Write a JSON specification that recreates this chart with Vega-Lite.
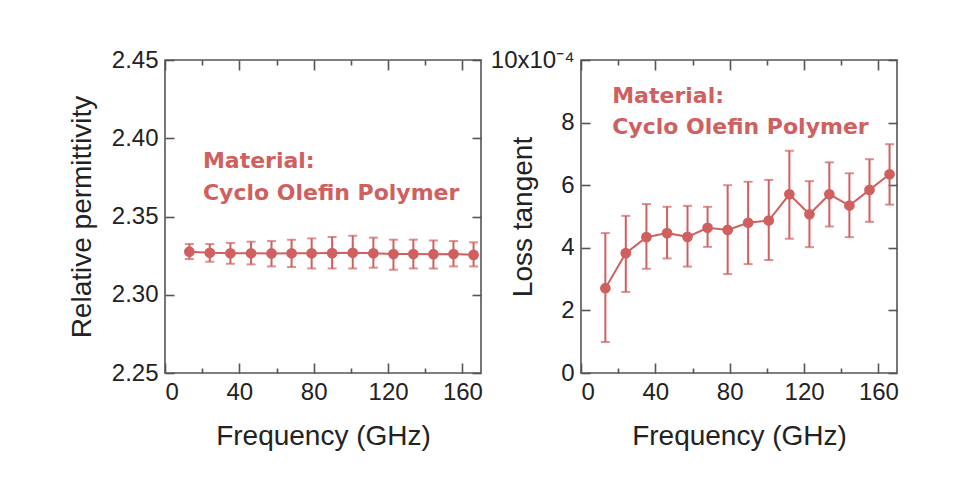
{
  "$schema": "https://vega.github.io/schema/vega-lite/v6.json",
  "autosize": {"type": "pad"},
  "padding": {"left": 67, "top": 47, "right": 5, "bottom": 5},
  "background": "#ffffff",
  "spacing": 100,
  "bounds": "flush",
  "config": {
    "font": "Liberation Sans",
    "view": {"stroke": "#555555", "strokeWidth": 1.6},
    "axis": {
      "grid": false,
      "domain": false,
      "labelFont": "Liberation Sans",
      "labelFontSize": 24,
      "labelColor": "#222222",
      "titleFont": "Liberation Sans",
      "titleFontSize": 28,
      "titleFontWeight": "normal",
      "titleColor": "#222222",
      "tickColor": "#555555",
      "tickWidth": 1.6,
      "labelOverlap": false
    }
  },
  "datasets": {
    "perm": [
      {"freq": 13.1, "v": 2.3275, "lo": 2.3228, "hi": 2.3324},
      {"freq": 24.1, "v": 2.3268, "lo": 2.3211, "hi": 2.3324},
      {"freq": 35.2, "v": 2.3265, "lo": 2.3198, "hi": 2.3331},
      {"freq": 46.3, "v": 2.3265, "lo": 2.3194, "hi": 2.3339},
      {"freq": 57.3, "v": 2.3264, "lo": 2.3181, "hi": 2.3343},
      {"freq": 68.1, "v": 2.3265, "lo": 2.3177, "hi": 2.3352},
      {"freq": 78.9, "v": 2.3265, "lo": 2.3168, "hi": 2.3360},
      {"freq": 89.9, "v": 2.3266, "lo": 2.3168, "hi": 2.3369},
      {"freq": 101.0, "v": 2.3268, "lo": 2.3168, "hi": 2.3377},
      {"freq": 112.1, "v": 2.3265, "lo": 2.3173, "hi": 2.3365},
      {"freq": 122.9, "v": 2.3260, "lo": 2.3160, "hi": 2.3352},
      {"freq": 133.6, "v": 2.3260, "lo": 2.3168, "hi": 2.3352},
      {"freq": 144.4, "v": 2.3259, "lo": 2.3168, "hi": 2.3347},
      {"freq": 155.2, "v": 2.3260, "lo": 2.3181, "hi": 2.3343},
      {"freq": 166.0, "v": 2.3255, "lo": 2.3181, "hi": 2.3335}
    ],
    "loss": [
      {"freq": 13.1, "v": 2.71, "lo": 0.99, "hi": 4.47},
      {"freq": 24.1, "v": 3.83, "lo": 2.59, "hi": 5.02},
      {"freq": 35.2, "v": 4.34, "lo": 3.33, "hi": 5.40},
      {"freq": 46.3, "v": 4.47, "lo": 3.66, "hi": 5.31},
      {"freq": 57.3, "v": 4.35, "lo": 3.40, "hi": 5.34},
      {"freq": 68.1, "v": 4.64, "lo": 4.03, "hi": 5.31},
      {"freq": 78.9, "v": 4.57, "lo": 3.16, "hi": 6.00},
      {"freq": 89.9, "v": 4.80, "lo": 3.48, "hi": 6.11},
      {"freq": 101.0, "v": 4.87, "lo": 3.61, "hi": 6.17},
      {"freq": 112.1, "v": 5.71, "lo": 4.29, "hi": 7.10},
      {"freq": 122.9, "v": 5.07, "lo": 4.02, "hi": 6.13},
      {"freq": 133.6, "v": 5.71, "lo": 4.68, "hi": 6.73},
      {"freq": 144.4, "v": 5.35, "lo": 4.34, "hi": 6.38},
      {"freq": 155.2, "v": 5.85, "lo": 4.83, "hi": 6.83},
      {"freq": 166.0, "v": 6.35, "lo": 5.38, "hi": 7.31}
    ],
    "notePerm": [{"freq": 20.4, "v": 2.381, "t": ["Material:", "Cyclo Olefin Polymer"]}],
    "noteLoss": [{"freq": 16.8, "v": 8.63, "t": ["Material:", "Cyclo Olefin Polymer"]}]
  },
  "hconcat": [
    {
      "width": 316,
      "height": 313,
      "resolve": {"axis": {"x": "independent", "y": "independent"}},
      "layer": [
        {
          "data": {"name": "perm"},
          "mark": {"type": "rule", "color": "#d06060", "strokeWidth": 2},
          "encoding": {
            "x": {"field": "freq", "type": "quantitative",
              "scale": {"domain": [0, 170], "nice": false, "zero": false},
              "axis": {"orient": "bottom", "values": [0, 20, 40, 60, 80, 100, 120, 140, 160],
                "labelExpr": "datum.value % 40 == 0 ? datum.label : ''",
                "tickSize": {"condition": {"test": "datum.value % 40 != 0", "value": -5}, "value": -10},
                "labelPadding": 17, "title": "Frequency (GHz)", "titlePadding": 13}},
            "y": {"field": "lo", "type": "quantitative",
              "scale": {"domain": [2.25, 2.45], "nice": false, "zero": false},
              "axis": {"orient": "left", "values": [2.25, 2.3, 2.35, 2.4, 2.45], "format": ".2f",
                "tickSize": -9, "labelPadding": 16, "title": "Relative permittivity", "titlePadding": 15}},
            "y2": {"field": "hi"}
          }
        },
        {
          "data": {"name": "perm"},
          "mark": {"type": "line", "color": "#d06060", "strokeWidth": 2},
          "encoding": {
            "x": {"field": "freq", "type": "quantitative",
              "axis": {"orient": "top", "values": [0, 20, 40, 60, 80, 100, 120, 140, 160], "labels": false, "title": null,
                "tickSize": {"condition": {"test": "datum.value % 40 != 0", "value": -5}, "value": -10}}},
            "y": {"field": "v", "type": "quantitative",
              "axis": {"orient": "right", "values": [2.25, 2.3, 2.35, 2.4, 2.45], "labels": false, "title": null, "tickSize": -9}}
          }
        },
        {
          "data": {"name": "perm"},
          "transform": [{"fold": ["lo", "hi"], "as": ["end", "ev"]}],
          "mark": {"type": "tick", "orient": "horizontal", "color": "#d06060", "size": 9, "thickness": 2},
          "encoding": {
            "x": {"field": "freq", "type": "quantitative", "axis": null},
            "y": {"field": "ev", "type": "quantitative", "axis": null}
          }
        },
        {
          "data": {"name": "perm"},
          "mark": {"type": "point", "filled": true, "color": "#d06060", "opacity": 1, "size": 115},
          "encoding": {
            "x": {"field": "freq", "type": "quantitative", "axis": null},
            "y": {"field": "v", "type": "quantitative", "axis": null}
          }
        },
        {
          "data": {"name": "notePerm"},
          "mark": {"type": "text", "align": "left", "baseline": "alphabetic", "font": "DejaVu Sans", "fontSize": 22, "fontWeight": "bold", "color": "#d06060", "lineHeight": 32},
          "encoding": {
            "x": {"field": "freq", "type": "quantitative", "axis": null},
            "y": {"field": "v", "type": "quantitative", "axis": null},
            "text": {"field": "t"}
          }
        }
      ]
    },
    {
      "width": 316,
      "height": 313,
      "resolve": {"axis": {"x": "independent", "y": "independent"}},
      "layer": [
        {
          "data": {"name": "loss"},
          "mark": {"type": "rule", "color": "#d06060", "strokeWidth": 2},
          "encoding": {
            "x": {"field": "freq", "type": "quantitative",
              "scale": {"domain": [0, 170], "nice": false, "zero": false},
              "axis": {"orient": "bottom", "values": [0, 20, 40, 60, 80, 100, 120, 140, 160],
                "labelExpr": "datum.value % 40 == 0 ? datum.label : ''",
                "tickSize": {"condition": {"test": "datum.value % 40 != 0", "value": -5}, "value": -10},
                "labelPadding": 17, "title": "Frequency (GHz)", "titlePadding": 13}},
            "y": {"field": "lo", "type": "quantitative",
              "scale": {"domain": [0, 10], "nice": false, "zero": false},
              "axis": {"orient": "left", "values": [0, 2, 4, 6, 8, 10],
                "labelExpr": "datum.value == 10 ? '10x10⁻⁴' : datum.label",
                "tickSize": -9, "labelPadding": 16, "title": "Loss tangent", "titlePadding": -47}},
            "y2": {"field": "hi"}
          }
        },
        {
          "data": {"name": "loss"},
          "mark": {"type": "line", "color": "#d06060", "strokeWidth": 2},
          "encoding": {
            "x": {"field": "freq", "type": "quantitative",
              "axis": {"orient": "top", "values": [0, 20, 40, 60, 80, 100, 120, 140, 160], "labels": false, "title": null,
                "tickSize": {"condition": {"test": "datum.value % 40 != 0", "value": -5}, "value": -10}}},
            "y": {"field": "v", "type": "quantitative",
              "axis": {"orient": "right", "values": [0, 2, 4, 6, 8, 10], "labels": false, "title": null, "tickSize": -9}}
          }
        },
        {
          "data": {"name": "loss"},
          "transform": [{"fold": ["lo", "hi"], "as": ["end", "ev"]}],
          "mark": {"type": "tick", "orient": "horizontal", "color": "#d06060", "size": 9, "thickness": 2},
          "encoding": {
            "x": {"field": "freq", "type": "quantitative", "axis": null},
            "y": {"field": "ev", "type": "quantitative", "axis": null}
          }
        },
        {
          "data": {"name": "loss"},
          "mark": {"type": "point", "filled": true, "color": "#d06060", "opacity": 1, "size": 115},
          "encoding": {
            "x": {"field": "freq", "type": "quantitative", "axis": null},
            "y": {"field": "v", "type": "quantitative", "axis": null}
          }
        },
        {
          "data": {"name": "noteLoss"},
          "mark": {"type": "text", "align": "left", "baseline": "alphabetic", "font": "DejaVu Sans", "fontSize": 22, "fontWeight": "bold", "color": "#d06060", "lineHeight": 31},
          "encoding": {
            "x": {"field": "freq", "type": "quantitative", "axis": null},
            "y": {"field": "v", "type": "quantitative", "axis": null},
            "text": {"field": "t"}
          }
        }
      ]
    }
  ]
}
